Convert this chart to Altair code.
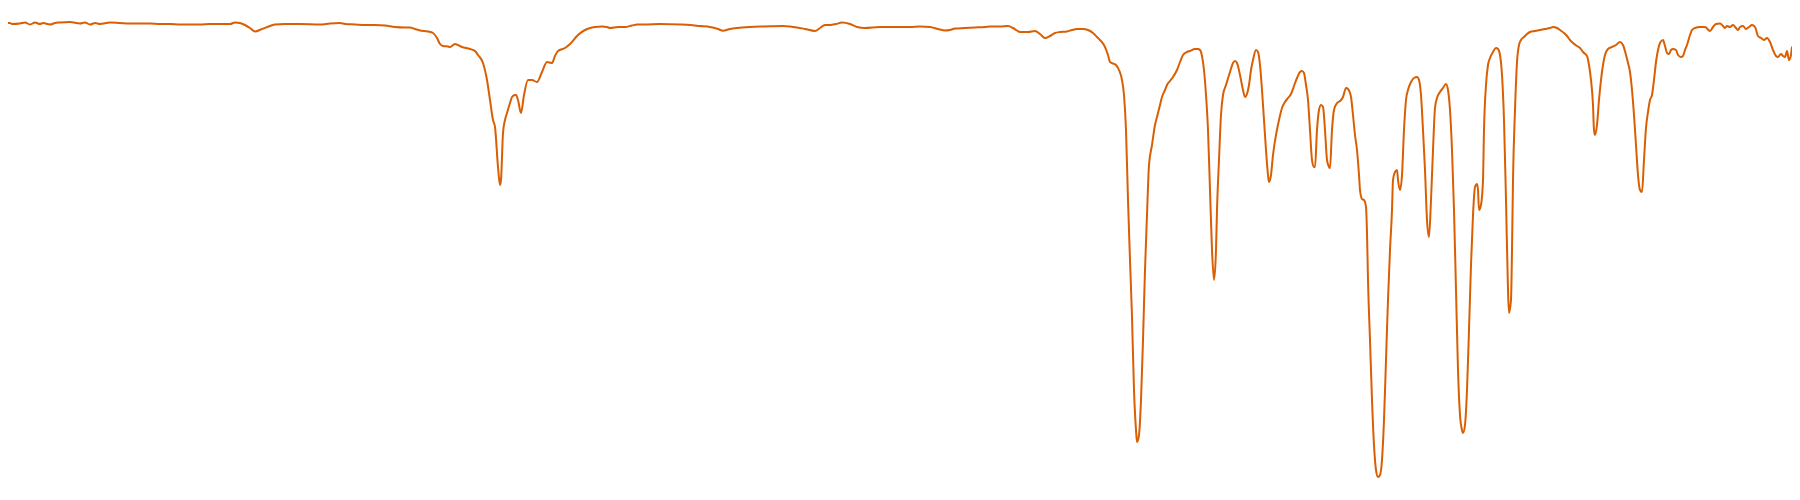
"""Single-trace spectrum: one orange line, no axes."""

import altair as alt
import pandas as pd

# Horizontal position along the trace and the depth of the curve at that point
# (depth grows downwards).
pos_flat = [0, 3, 10, 12, 20, 25, 30, 35, 40, 43, 50, 55, 60, 70, 80, 85, 90, 95, 100,
            110, 120, 130, 140, 150, 160, 170, 180, 190, 200, 210, 220, 230, 235, 240,
            245, 250, 255, 262, 270, 275, 285, 300, 320, 330, 340, 345, 355, 365, 375,
            385, 395, 405, 410, 415, 420, 428, 433, 437, 440, 443, 448]
depth_flat = [27, 24, 23, 24, 23.5, 22.5, 24.5, 22.5, 24, 23, 24.5, 23, 22.5, 22, 23.5,
              22.5, 24.5, 23, 24, 22.5, 23, 23.5, 23.5, 23.5, 24, 24, 24.5, 24.5, 24.5,
              24, 24, 24, 22.5, 23, 25, 28, 31.5, 29, 26, 24.5, 24, 24, 24.5, 23.5, 23,
              24, 24.5, 25, 25, 25.5, 27, 27.5, 27.5, 29, 30.5, 31.5, 33, 38, 44, 46, 46.5]

pos_ch = [450, 455, 462, 470, 475, 478, 483, 487, 490, 493, 495, 498, 500, 501, 503, 505,
          507, 510, 512, 515, 516, 518, 521, 524, 528, 532, 537, 542, 547, 552, 555, 558,
          565, 570, 578, 585, 590, 595, 602, 607, 610, 618, 625, 632, 637]
depth_ch = [47, 44, 47, 49, 51, 55, 63, 80, 100, 120, 127, 167, 185, 180, 133, 120, 113,
            103, 97, 95, 95, 100, 113, 95, 80, 80, 82, 72, 62, 63, 56, 51, 48, 44, 35, 30,
            28, 27, 26.5, 27, 28, 27, 27, 25.5, 24.5]

pos_mid = [645, 660, 680, 690, 700, 710, 718, 723, 730, 737, 750, 765, 783, 790, 797, 805,
           815, 820, 825, 830, 836, 842, 850, 857, 865, 880, 890, 900, 910, 920, 930, 938,
           945, 950, 955, 965, 975, 985, 990, 1000, 1008, 1013, 1017, 1020, 1028, 1035,
           1040, 1045, 1050, 1055, 1060, 1067, 1072, 1077, 1083, 1088, 1093]
depth_mid = [24.5, 24, 24.5, 25, 26, 27, 29, 30.7, 29, 28, 27, 26.5, 26, 26.5, 27.5, 29,
             31, 28, 25, 25, 24, 22.5, 24, 27, 28, 27, 27, 27, 27, 26.5, 27, 29, 30.5, 30,
             28.5, 28, 27.5, 27, 26.5, 26.5, 26, 28, 30.5, 32, 32, 31, 34, 38, 36, 33, 32,
             31.5, 30, 29, 29, 30, 33]

pos_fp1 = [1097, 1100, 1104, 1108, 1110, 1113, 1116, 1119, 1122, 1124, 1126, 1128, 1130,
           1132, 1134, 1136, 1137, 1139, 1141, 1143, 1145, 1147, 1149, 1152, 1155, 1157,
           1160, 1162, 1165, 1167, 1170, 1173, 1177, 1180, 1183, 1187, 1190, 1195, 1198,
           1200, 1202, 1204, 1206, 1208, 1210, 1212, 1214, 1216, 1217, 1219, 1221, 1223,
           1226, 1230, 1233, 1235, 1237, 1240, 1243, 1245, 1247, 1249, 1251, 1253, 1256,
           1258, 1260, 1262, 1264, 1266, 1268, 1269, 1271, 1273, 1276, 1279, 1282, 1285,
           1288, 1291, 1294, 1297, 1300, 1302, 1304, 1306, 1308, 1310, 1312, 1314, 1315,
           1317, 1319, 1321, 1323, 1325, 1327, 1329, 1330, 1332, 1334, 1337, 1340, 1343,
           1346, 1348]
depth_fp1 = [37, 40, 45, 55, 62, 63.5, 65, 70, 80, 95, 130, 200, 260, 317, 390, 430, 442,
             435, 400, 340, 270, 215, 165, 145, 125, 117, 105, 97, 90, 85, 81, 77, 70, 62,
             55, 52, 51, 49, 49, 50, 56, 70, 95, 130, 190, 250, 280, 250, 210, 160, 115,
             95, 85, 72, 63, 61, 63, 75, 90, 97, 94, 85, 70, 60, 50, 52, 65, 90, 120, 150,
             175, 182, 175, 155, 135, 120, 108, 102, 98, 94, 86, 78, 72, 71, 73, 85, 100,
             130, 160, 167, 167, 130, 110, 105, 107, 130, 160, 167, 168, 130, 110, 103,
             101, 97, 88, 89]

pos_fp2 = [1351, 1353, 1355, 1357, 1359, 1360, 1362, 1364, 1366, 1367, 1368, 1370, 1372,
           1374, 1376, 1378, 1380, 1382, 1384, 1386, 1388, 1390, 1392, 1393, 1395, 1397,
           1398, 1400, 1402, 1404, 1406, 1408, 1411, 1414, 1417, 1419, 1421, 1423, 1425,
           1427, 1429, 1431, 1433, 1435, 1437, 1440, 1443, 1446, 1448, 1450, 1452, 1454,
           1456, 1458, 1460, 1462, 1463, 1465, 1467, 1469, 1471, 1473, 1475, 1477, 1478,
           1479, 1481, 1483, 1484, 1486, 1488, 1490, 1493, 1496, 1498, 1500, 1502, 1504,
           1506, 1508, 1509, 1511, 1512, 1513, 1515, 1517, 1519, 1521, 1524, 1527, 1530,
           1535, 1540, 1545, 1550, 1553, 1557, 1560, 1564, 1567, 1570, 1573, 1577, 1580,
           1583, 1587, 1589, 1591, 1593, 1594, 1595, 1597, 1599, 1601, 1603, 1605, 1608,
           1612, 1616, 1620, 1623, 1626, 1628, 1630, 1632, 1634, 1636, 1638, 1640, 1642,
           1644, 1646, 1648, 1650, 1652, 1654, 1656, 1658, 1660, 1663, 1665, 1667, 1669,
           1671, 1673, 1676, 1678, 1681, 1683, 1685, 1687, 1690, 1692, 1695, 1700, 1705,
           1710, 1713, 1716, 1720, 1723, 1725, 1727, 1730, 1733, 1736, 1738, 1740, 1743,
           1746, 1749, 1752, 1755, 1758, 1761, 1764, 1767, 1770, 1773, 1776, 1778, 1781,
           1783, 1785, 1787, 1789, 1791, 1792, 1794, 1796, 1798, 1800]
depth_fp2 = [97, 115, 135, 150, 175, 190, 199, 200, 207, 233, 280, 340, 400, 445, 470,
             477, 475, 460, 420, 360, 300, 250, 210, 180, 172, 170, 180, 190, 175, 130,
             100, 90, 82, 78, 77, 80, 95, 130, 170, 220, 237, 200, 150, 108, 98, 92, 88,
             84, 90, 110, 150, 210, 290, 370, 415, 430, 433, 425, 390, 330, 265, 215, 187,
             184, 190, 210, 205, 180, 130, 85, 65, 58, 52, 48, 49, 55, 75, 120, 200, 290,
             313, 300, 250, 180, 110, 62, 45, 40, 37, 34, 32, 31, 30, 29, 28, 27, 28, 30,
             33, 36, 40, 43, 46, 48, 52, 56, 65, 80, 105, 130, 135, 125, 100, 80, 65, 55,
             49, 47, 45, 42, 45, 55, 63, 72, 90, 115, 145, 175, 190, 192, 160, 128, 112,
             100, 95, 80, 62, 50, 43, 40, 46, 53, 54, 50, 49, 50, 55, 57, 56, 50, 45, 35,
             30, 28, 27, 27, 31, 27, 24, 23.5, 26, 28, 26, 27, 25, 28, 30, 27, 26, 29, 27,
             25, 27, 36, 38, 40, 38, 42, 50, 56, 57, 54, 56, 57, 51, 60, 55, 47, 53, 57,
             50, 45]

pos = pos_flat + pos_ch + pos_mid + pos_fp1 + pos_fp2
depth = depth_flat + depth_ch + depth_mid + depth_fp1 + depth_fp2
df = pd.DataFrame({"pos": pos, "depth": depth, "order": range(len(pos))})

line = alt.Chart(df).mark_line(
    color="#d95f02", strokeWidth=2, clip=True, interpolate="monotone"
).encode(
    x=alt.X("pos:Q", scale=alt.Scale(domain=[8, 1792], nice=False, zero=False), axis=None),
    y=alt.Y("depth:Q", scale=alt.Scale(domain=[492, 8], nice=False, zero=False), axis=None),
    order="order:Q",
)

chart = line.properties(width=1784, height=484, padding=0).configure_view(strokeWidth=0)
chart.save("out.html", embed_options={"renderer": "svg", "actions": False})
